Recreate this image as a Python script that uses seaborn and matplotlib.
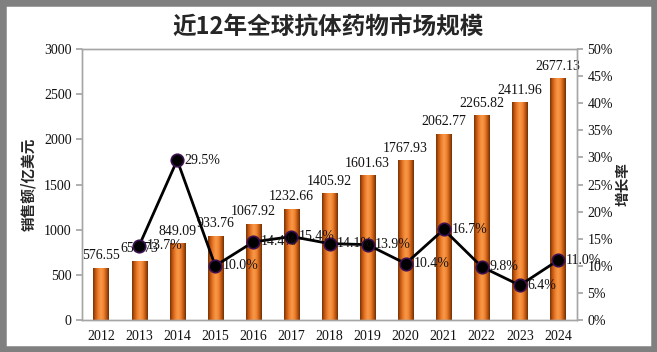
import numpy as np
import pandas as pd
import matplotlib
matplotlib.use("Agg")
import matplotlib.pyplot as plt
import seaborn as sns
from matplotlib.colors import LinearSegmentedColormap
from matplotlib.patches import Rectangle

years = ["2012", "2013", "2014", "2015", "2016", "2017", "2018", "2019", "2020", "2021", "2022", "2023", "2024"]
sales = [576.55, 655.73, 849.09, 933.76, 1067.92, 1232.66, 1405.92, 1601.63, 1767.93, 2062.77, 2265.82, 2411.96, 2677.13]
growth = [np.nan, 13.7, 29.5, 10.0, 14.4, 15.4, 14.1, 13.9, 10.4, 16.7, 9.8, 6.4, 11.0]
sales_labels = ["576.55", "655.73", "849.09", "933.76", "1067.92", "1232.66", "1405.92", "1601.63",
                "1767.93", "2062.77", "2265.82", "2411.96", "2677.13"]
growth_labels = ["", "13.7%", "29.5%", "10.0%", "14.4%", "15.4%", "14.1%", "13.9%", "10.4%",
                 "16.7%", "9.8%", "6.4%", "11.0%"]
left_ticks = [0, 500, 1000, 1500, 2000, 2500, 3000]
right_ticks = [0, 5, 10, 15, 20, 25, 30, 35, 40, 45, 50]

df = pd.DataFrame({"year": years, "sales": sales, "growth": growth})

sns.set_theme(style="white")
plt.rcParams['font.family'] = ['Liberation Serif', 'Noto Sans CJK SC', 'DejaVu Sans']

fig = plt.figure(figsize=(6.57, 3.52), dpi=100)
fig.patch.set_facecolor("white")
fig.patches.append(Rectangle((0, 0), 1, 1, transform=fig.transFigure, fill=False,
                             edgecolor="#808080", linewidth=9, zorder=10))

ax = fig.add_axes([82 / 657, 1 - 320 / 352, (577 - 82) / 657, (320 - 49) / 352])
sns.barplot(data=df, x="year", y="sales", ax=ax, color="#E87722", width=0.4,
            saturation=1, edgecolor="none")

cmap = LinearSegmentedColormap.from_list(
    "cyl", ["#7A3406", "#C85A12", "#EE8030", "#F79A48", "#F08532", "#C55A12", "#6E3006"])
grad = np.linspace(0, 1, 64).reshape(1, -1)
for p in ax.patches:
    x0, y0 = p.get_x(), p.get_y()
    w, h = p.get_width(), p.get_height()
    im = ax.imshow(grad, extent=[x0, x0 + w, y0, y0 + h], aspect="auto", cmap=cmap, zorder=2)
    im.set_clip_path(p)
ax.set_xlim(-0.5, len(years) - 0.5)
ax.set_ylim(0, 3000)
ax.set_yticks(left_ticks)
ax.set_yticklabels([str(t) for t in left_ticks])

for i, (v, lab) in enumerate(zip(sales, sales_labels)):
    ax.text(i, v + 60, lab, ha="center", va="bottom", fontsize=10, color="#111111",
            family="Liberation Serif", zorder=5)

ax2 = ax.twinx()
ax2.set_position(ax.get_position())
sns.lineplot(data=df, x="year", y="growth", ax=ax2, color="black", linewidth=2,
             marker="o", markersize=9, markerfacecolor="black", markeredgecolor="#3A1050",
             markeredgewidth=1.2, sort=False)
ax2.set_ylim(0, 50)
ax2.set_yticks(right_ticks)
ax2.set_yticklabels([f"{t}%" for t in right_ticks])
for i, (g, lab) in enumerate(zip(growth, growth_labels)):
    if lab:
        ax2.text(i + 0.2, g, lab, ha="left", va="center", fontsize=10, color="#111111",
                 family="Liberation Serif", zorder=6)

for a in (ax, ax2):
    for s in a.spines.values():
        s.set_color("#A6A6A6")
        s.set_linewidth(1)
    a.tick_params(axis="both", which="both", length=4, color="#A6A6A6", labelsize=10,
                  labelcolor="#111111", direction="out")
    a.grid(False)

ax.set_xticks(np.arange(len(years)))
ax.set_xticklabels(years)
ax.set_xticks(np.arange(len(years) + 1) - 0.5, minor=True)
ax.tick_params(axis="x", which="major", length=0, pad=7)
ax.tick_params(axis="x", which="minor", length=4, color="#A6A6A6")
ax.set_xlabel("")
ax.set_ylabel("销售额/亿美元", family=["Noto Sans CJK SC"], fontsize=10.5, fontweight="bold",
              va="center", ha="center")
ax.yaxis.set_label_coords(-0.108, 0.5)
ax2.set_ylabel("增长率", family=["Noto Sans CJK SC"], fontsize=10.5, fontweight="bold",
               rotation=90, va="center", ha="center")
ax2.yaxis.set_label_coords(1.092, 0.5)
ax2.set_xlabel("")

fig.text(0.5, 1 - 27 / 352, "近12年全球抗体药物市场规模", ha="center", va="center",
         fontsize=17, fontweight="bold", family=["Noto Sans CJK SC", "DejaVu Sans"])

fig.savefig("out.png", dpi=100, facecolor="white")
